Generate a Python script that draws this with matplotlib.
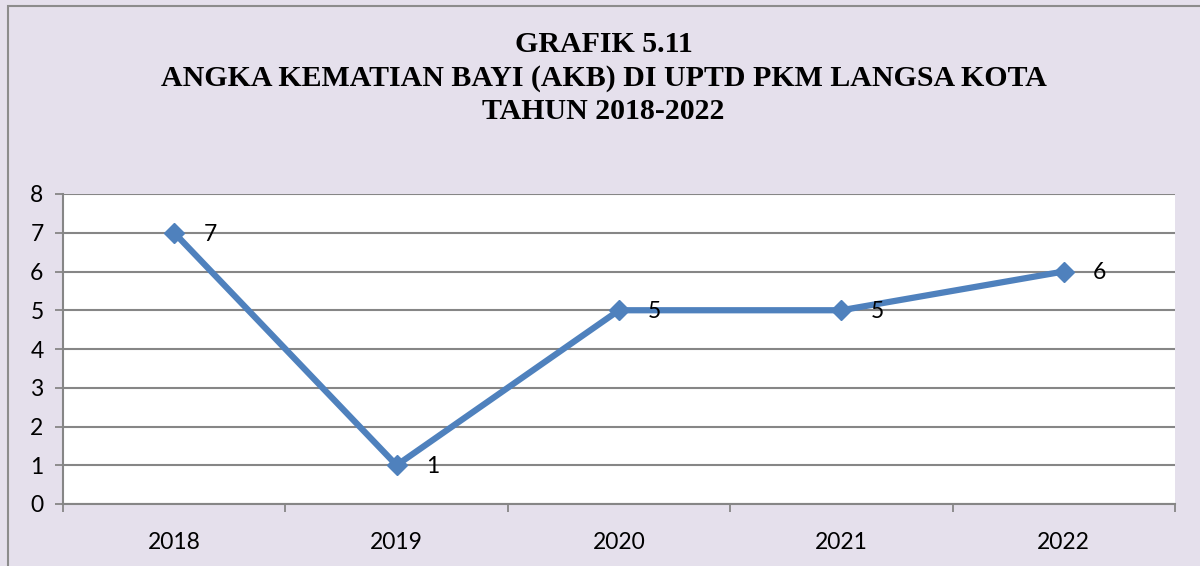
import numpy as np
import matplotlib.pyplot as plt
from matplotlib.patches import Rectangle

# data
tahun = ['2018', '2019', '2020', '2021', '2022']
akb = [7, 1, 5, 5, 6]

judul = 'GRAFIK 5.11\nANGKA KEMATIAN BAYI (AKB) DI UPTD PKM LANGSA KOTA\nTAHUN 2018-2022'

bg = '#E5E0EC'
garis = '#4F81BD'
abu = '#868686'

fig = plt.figure(figsize=(12, 5.66), dpi=100, facecolor=bg)
fig.patches.append(Rectangle((8 / 1200, -0.1), 1.2, (566 - 6) / 566 + 0.1,
                             transform=fig.transFigure, facecolor='none',
                             edgecolor='#8C8C8C', lw=1.5))

ax = fig.add_axes([63 / 1200, 1 - 504 / 566, (1175 - 63) / 1200, (504 - 194) / 566])
ax.set_facecolor('white')

x = np.arange(len(tahun))
ax.plot(x, akb, color=garis, lw=4.5, marker='D', ms=10, mfc=garis, mec=garis, zorder=3)
for xi, yi in zip(x, akb):
    ax.annotate(str(yi), (xi, yi), xytext=(21, -1), textcoords='offset points',
                ha='left', va='center', fontsize=16.5, family='Lato', zorder=4)

ax.set_xlim(-0.5, len(tahun) - 0.5)
ax.set_ylim(0, 8)
ax.set_yticks(range(0, 9))
ax.grid(axis='y', color=abu, lw=1.5, zorder=0)
ax.set_axisbelow(True)

# ticks di batas kategori, label di tengah
ax.set_xticks(np.arange(-0.5, len(tahun), 1.0))
ax.set_xticklabels([])
ax.set_xticks(x, minor=True)
ax.set_xticklabels(tahun, minor=True, fontsize=16.5, family='Lato')
ax.tick_params(axis='x', which='major', length=6, width=1.3, color=abu, direction='out')
ax.tick_params(axis='x', which='minor', length=0, pad=20)
ax.tick_params(axis='y', length=6, width=1.3, color=abu, pad=8, labelsize=16.5)
for lab in ax.get_yticklabels():
    lab.set_family('Lato')

for s in ['top', 'right']:
    ax.spines[s].set_visible(False)
ax.spines['left'].set_color(abu)
ax.spines['left'].set_linewidth(1.5)
ax.spines['bottom'].set_color(abu)
ax.spines['bottom'].set_linewidth(1.5)

fig.text(0.503, 1 - 78 / 566, judul, ha='center', va='center', fontsize=21.5,
         fontweight='bold', family='Liberation Serif', linespacing=1.28)

fig.savefig('out.png', dpi=100, facecolor=bg)
